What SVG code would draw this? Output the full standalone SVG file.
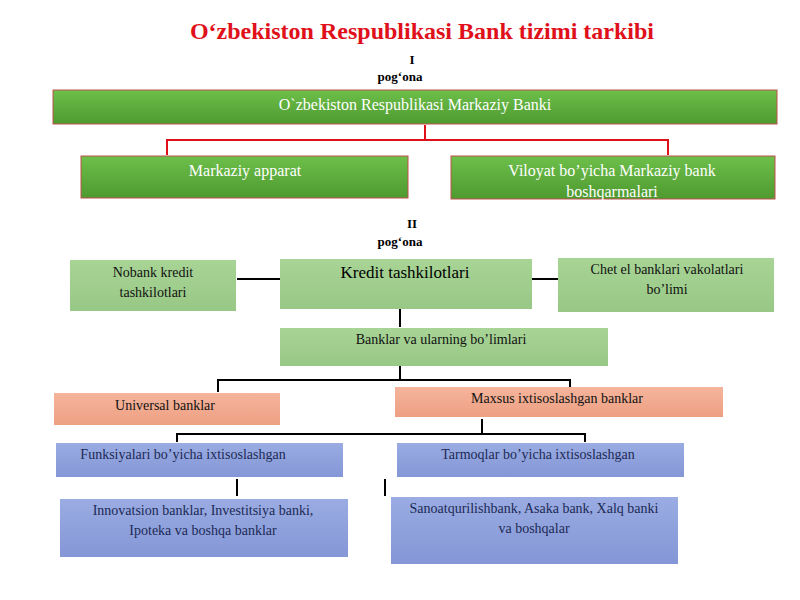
<svg xmlns="http://www.w3.org/2000/svg" width="800" height="600" viewBox="0 0 800 600">
<defs>
<linearGradient id="g1" x1="0" y1="0" x2="0" y2="1"><stop offset="0" stop-color="#6dbf4a"/><stop offset="1" stop-color="#4e9a30"/></linearGradient>
<linearGradient id="g2" x1="0" y1="0" x2="0" y2="1"><stop offset="0" stop-color="#a8d496"/><stop offset="1" stop-color="#98c885"/></linearGradient>
<linearGradient id="g3" x1="0" y1="0" x2="0" y2="1"><stop offset="0" stop-color="#f4b59c"/><stop offset="1" stop-color="#ee9f82"/></linearGradient>
<linearGradient id="g4" x1="0" y1="0" x2="0" y2="1"><stop offset="0" stop-color="#9aace2"/><stop offset="1" stop-color="#8496d6"/></linearGradient>
</defs>
<style>
text{font-family:"Liberation Serif",serif;text-anchor:middle}
.w{fill:#fff;font-size:16px}
.b{fill:#111;font-size:14px}
.n{fill:#1c2a55;font-size:14px}
.dg{fill:url(#g1);stroke:#c0504d;stroke-width:1}
.lg{fill:url(#g2)}
.or{fill:url(#g3)}
.bl{fill:url(#g4)}
.k{stroke:#000;stroke-width:2;fill:none}
</style>
<rect width="800" height="600" fill="#fff"/>
<text x="422" y="39" style="font-size:24px;font-weight:bold;fill:#e0101a">O‘zbekiston Respublikasi Bank tizimi tarkibi</text>
<text x="412" y="64" style="font-size:13px;font-weight:bold">I</text>
<text x="400" y="81" style="font-size:13px;font-weight:bold">pog‘ona</text>
<text x="412" y="228" style="font-size:13px;font-weight:bold">II</text>
<text x="400" y="246" style="font-size:13px;font-weight:bold">pog‘ona</text>
<g id="connectors">
<path d="M425 125V140H167V155M425 140H668V155" stroke="#e0101a" stroke-width="2" fill="none"/>
<path class="k" d="M237 279H280M532 279H560M400 309V327M400 349V380H218V392M400 380H570V388M482 419V434H177V442M482 434H585V442M237 479V496M385 479V496"/>
</g>
<g id="n1"><rect class="dg" x="53" y="90" width="724" height="34"/><text class="w" x="415" y="110">O`zbekiston Respublikasi Markaziy Banki</text></g>
<g id="n2"><rect class="dg" x="81" y="156" width="327" height="42"/><text class="w" x="245" y="176">Markaziy apparat</text></g>
<g id="n3"><rect class="dg" x="451" y="156" width="324" height="43"/><text class="w" x="612" y="176">Viloyat bo’yicha Markaziy bank</text><text class="w" x="612" y="197">boshqarmalari</text></g>
<g id="n4"><rect class="lg" x="70" y="260" width="166" height="51"/><text class="b" x="153" y="277">Nobank kredit</text><text class="b" x="153" y="297">tashkilotlari</text></g>
<g id="n5"><rect class="lg" x="280" y="259" width="252" height="50"/><text x="405" y="278" style="font-size:17px">Kredit tashkilotlari</text></g>
<g id="n6"><rect class="lg" x="558" y="258" width="216" height="54"/><text class="b" x="667" y="274">Chet el banklari vakolatlari</text><text class="b" x="667" y="294">bo’limi</text></g>
<g id="n7"><rect class="lg" x="280" y="328" width="328" height="38"/><text class="b" x="441" y="344">Banklar va ularning bo’limlari</text></g>
<g id="n8"><rect class="or" x="54" y="393" width="226" height="32"/><text class="b" x="165" y="410">Universal banklar</text></g>
<g id="n9"><rect class="or" x="395" y="387" width="328" height="30"/><text class="b" x="557" y="403">Maxsus ixtisoslashgan banklar</text></g>
<g id="n10"><rect class="bl" x="56" y="443" width="287" height="34"/><text class="n" x="183" y="459">Funksiyalari bo’yicha ixtisoslashgan</text></g>
<g id="n11"><rect class="bl" x="397" y="443" width="287" height="34"/><text class="n" x="538" y="459">Tarmoqlar bo’yicha ixtisoslashgan</text></g>
<g id="n12"><rect class="bl" x="60" y="499" width="288" height="58"/><text class="n" x="203" y="515">Innovatsion banklar, Investitsiya banki,</text><text class="n" x="203" y="535">Ipoteka va boshqa banklar</text></g>
<g id="n13"><rect class="bl" x="391" y="497" width="287" height="67"/><text class="n" x="534" y="513">Sanoatqurilishbank, Asaka bank, Xalq banki</text><text class="n" x="534" y="533">va boshqalar</text></g>
</svg>
